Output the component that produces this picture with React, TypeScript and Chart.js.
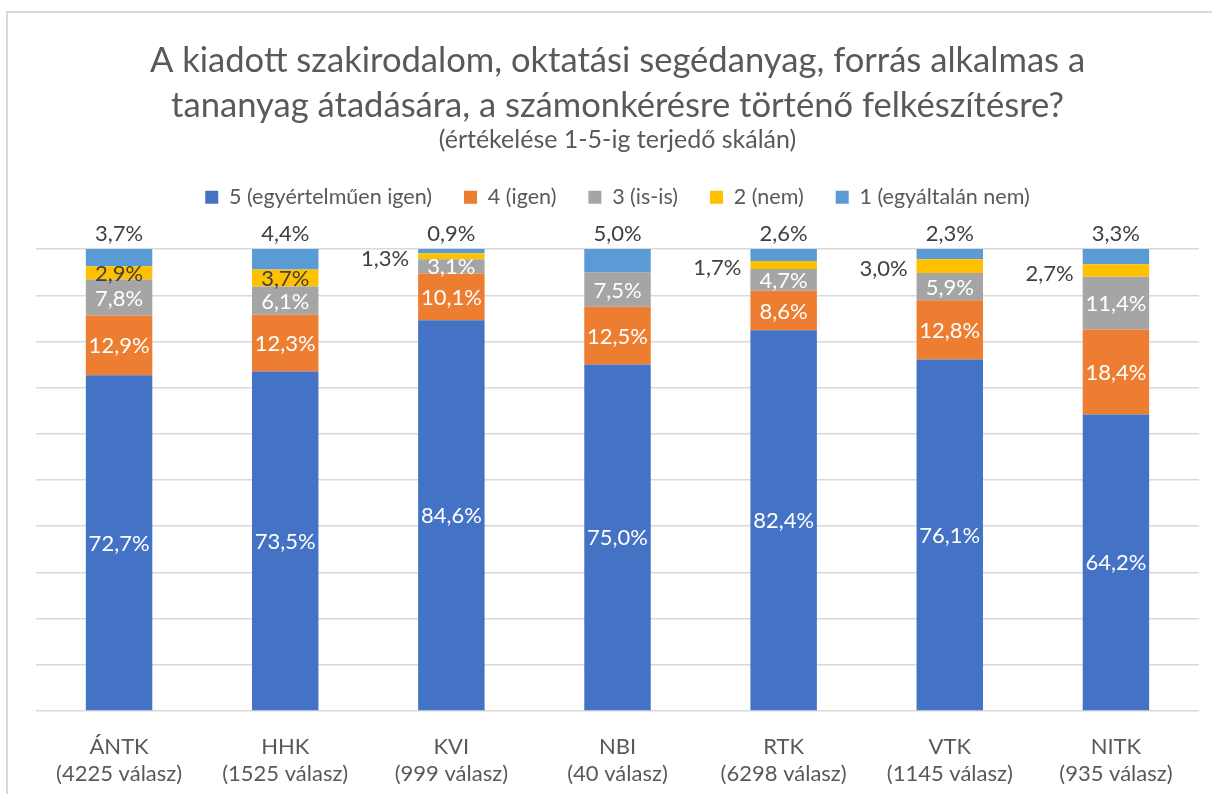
import React, { useEffect, useRef } from "react";
import { Chart, registerables } from "chart.js";

Chart.register(...registerables);

const categories: string[][] = [
  ["ÁNTK", "(4225 válasz)"],
  ["HHK", "(1525 válasz)"],
  ["KVI", "(999 válasz)"],
  ["NBI", "(40 válasz)"],
  ["RTK", "(6298 válasz)"],
  ["VTK", "(1145 válasz)"],
  ["NITK", "(935 válasz)"],
];

const seriesNames = [
  "5 (egyértelműen igen)",
  "4 (igen)",
  "3 (is-is)",
  "2 (nem)",
  "1 (egyáltalán nem)",
];

const s5 = [72.7, 73.5, 84.6, 75.0, 82.4, 76.1, 64.2];
const s4 = [12.9, 12.3, 10.1, 12.5, 8.6, 12.8, 18.4];
const s3 = [7.8, 6.1, 3.1, 7.5, 4.7, 5.9, 11.4];
const s2 = [2.9, 3.7, 1.3, 0, 1.7, 3.0, 2.7];
const s1 = [3.7, 4.4, 0.9, 5.0, 2.6, 2.3, 3.3];

const seriesValues = [s5, s4, s3, s2, s1];
const seriesColors = ["#4472C4", "#ED7D31", "#A5A5A5", "#FFC000", "#5B9BD5"];

// categories whose "2 (nem)" label sits left of the bar
const leftLabelCats = [false, false, true, false, true, true, true];

const titleLines = [
  "A kiadott szakirodalom, oktatási segédanyag, forrás alkalmas a",
  "tananyag átadására, a számonkérésre történő felkészítésre?",
];
const subtitleText = "(értékelése 1-5-ig terjedő skálán)";

const FONT = "Lato, 'Open Sans', sans-serif";
const DARK = "#404040";
const GREY_TEXT = "#595959";

const fmt = (v: number) => v.toFixed(1).replace(".", ",") + "%";

const labelPlugin = {
  id: "segLabels",
  afterDatasetsDraw(chart: any) {
    const ctx = chart.ctx as CanvasRenderingContext2D;
    ctx.save();
    ctx.font = `22px ${FONT}`;
    ctx.textBaseline = "middle";
    chart.data.datasets.forEach((ds: any, i: number) => {
      const meta = chart.getDatasetMeta(i);
      meta.data.forEach((bar: any, j: number) => {
        const v = ds.data[j] as number;
        if (!v) return;
        const text = fmt(v);
        const p = bar.getProps(["x", "y", "base", "width"], true);
        const mid = (p.y + p.base) / 2;
        if (i <= 2) {
          ctx.fillStyle = "#ffffff";
          ctx.textAlign = "center";
          ctx.fillText(text, p.x, mid + 1);
        } else if (i === 3) {
          ctx.fillStyle = DARK;
          if (leftLabelCats[j]) {
            ctx.textAlign = "right";
            ctx.fillText(text, p.x - p.width / 2 - 9, mid + 3);
          } else {
            ctx.textAlign = "center";
            ctx.fillText(text, p.x, mid + 1);
          }
        } else {
          ctx.fillStyle = DARK;
          ctx.textAlign = "center";
          ctx.fillText(text, p.x, Math.min(p.y, p.base) - 15);
        }
      });
    });
    ctx.restore();
  },
};

const legendSpacer = {
  id: "legendSpacer",
  beforeInit(chart: any) {
    const legend = chart.legend;
    if (!legend) return;
    const orig = legend.fit;
    legend.fit = function () {
      orig.call(this);
      this.height += 31;
    };
  },
};

export default function App() {
  const ref = useRef<HTMLCanvasElement>(null);

  useEffect(() => {
    const canvas = ref.current;
    if (!canvas) return;
    const chart = new Chart(canvas, {
      type: "bar",
      data: {
        labels: categories,
        datasets: seriesValues.map((vals, i) => ({
          label: seriesNames[i],
          data: vals,
          backgroundColor: seriesColors[i],
          borderWidth: 0,
          barPercentage: 0.4,
          categoryPercentage: 1,
        })),
      },
      options: {
        animation: false,
        responsive: false,
        devicePixelRatio: 1,
        layout: { padding: { left: 28, right: 13, top: 0, bottom: 0 } },
        plugins: {
          title: {
            display: true,
            text: titleLines,
            color: GREY_TEXT,
            font: { family: FONT, size: 34.6, weight: "normal", lineHeight: 1.28 },
            padding: { top: 26, bottom: 0 },
          },
          subtitle: {
            display: true,
            text: subtitleText,
            color: GREY_TEXT,
            font: { family: FONT, size: 25, weight: "normal", lineHeight: 1.0 },
            padding: { top: 0, bottom: 2 },
          },
          legend: {
            display: true,
            position: "top",
            labels: {
              color: GREY_TEXT,
              font: { family: FONT, size: 21.5 },
              boxWidth: 13,
              boxHeight: 13,
              padding: 32,
            },
          },
          tooltip: { enabled: false },
        },
        scales: {
          x: {
            stacked: true,
            grid: { display: false, drawTicks: false },
            border: { display: false },
            ticks: {
              color: GREY_TEXT,
              font: { family: FONT, size: 22, lineHeight: 1.23 },
              padding: 22,
              maxRotation: 0,
              autoSkip: false,
            },
            afterFit: (s: any) => {
              s.height = 83;
            },
          },
          y: {
            stacked: true,
            min: 0,
            max: 100,
            ticks: { display: false, stepSize: 10 },
            grid: { color: "#d9d9d9", lineWidth: 1.5, drawTicks: false },
            border: { display: false },
            afterFit: (s: any) => {
              s.width = 0;
            },
          },
        },
      },
      plugins: [labelPlugin, legendSpacer],
    });
    return () => chart.destroy();
  }, []);

  return (
    <div
      style={{
        position: "fixed",
        left: 6,
        top: 11,
        right: 0,
        bottom: 0,
        borderTop: "2px solid #d9d9d9",
        borderLeft: "2px solid #d9d9d9",
        background: "#ffffff",
        overflow: "hidden",
      }}
    >
      <canvas
        ref={ref}
        width={1204}
        height={781}
        style={{ display: "block", width: 1204, height: 781 }}
      />
    </div>
  );
}
